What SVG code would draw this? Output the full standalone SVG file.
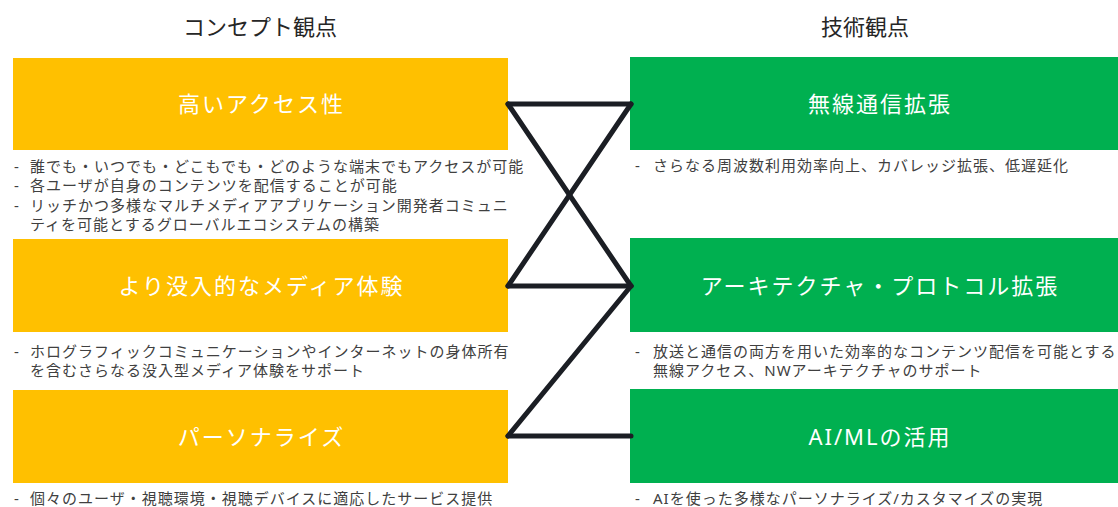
<svg xmlns="http://www.w3.org/2000/svg" width="1118" height="507" viewBox="0 0 1118 507">
  <style>
    .title { font-family: "Noto Sans CJK JP", "Noto Sans", sans-serif; font-size: 22px; fill: #262626; text-anchor: middle; }
    .boxL { fill: #ffc000; }
    .boxR { fill: #00b050; }
    .label { font-family: "Noto Sans", "Noto Sans CJK JP", sans-serif; font-size: 22px; fill: #ffffff; text-anchor: middle; letter-spacing: 2px; }
    .bullet { font-family: "Noto Sans", "Noto Sans CJK JP", sans-serif; font-size: 15px; fill: #404040; letter-spacing: 1px; }
    .conn { stroke: #1b1e24; stroke-width: 5; stroke-linecap: round; fill: none; }
  </style>
  <rect width="1118" height="507" fill="#ffffff"/>

  <g id="titles">
    <text class="title" x="260" y="35">コンセプト観点</text>
    <text class="title" x="865" y="35">技術観点</text>
  </g>

  <g id="node-access">
    <rect class="boxL" x="13" y="58" width="495" height="92"/>
    <text class="label" x="261.5" y="112">高いアクセス性</text>
    <text class="bullet" x="14" y="171.5">-</text>
    <text class="bullet" x="30" y="171.5">誰でも・いつでも・どこもでも・どのような端末でもアクセスが可能</text>
    <text class="bullet" x="14" y="191">-</text>
    <text class="bullet" x="30" y="191">各ユーザが自身のコンテンツを配信することが可能</text>
    <text class="bullet" x="14" y="210.5">-</text>
    <text class="bullet" x="30" y="210.5">リッチかつ多様なマルチメディアアプリケーション開発者コミュニ</text>
    <text class="bullet" x="30" y="230">ティを可能とするグローバルエコシステムの構築</text>
  </g>

  <g id="node-media">
    <rect class="boxL" x="13" y="239" width="495" height="93"/>
    <text class="label" x="261.5" y="293.5">より没入的なメディア体験</text>
    <text class="bullet" x="14" y="357">-</text>
    <text class="bullet" x="30" y="357">ホログラフィックコミュニケーションやインターネットの身体所有</text>
    <text class="bullet" x="30" y="376">を含むさらなる没入型メディア体験をサポート</text>
  </g>

  <g id="node-personalize">
    <rect class="boxL" x="13" y="390" width="495" height="93"/>
    <text class="label" x="261.5" y="444.5">パーソナライズ</text>
    <text class="bullet" x="14" y="503.5">-</text>
    <text class="bullet" x="30" y="503.5">個々のユーザ・視聴環境・視聴デバイスに適応したサービス提供</text>
  </g>

  <g id="node-wireless">
    <rect class="boxR" x="630" y="57" width="498" height="93"/>
    <text class="label" x="880" y="112">無線通信拡張</text>
    <text class="bullet" x="635" y="170.5">-</text>
    <text class="bullet" x="653" y="170.5">さらなる周波数利用効率向上、カバレッジ拡張、低遅延化</text>
  </g>

  <g id="node-architecture">
    <rect class="boxR" x="630" y="238" width="498" height="94"/>
    <text class="label" x="880" y="293.5">アーキテクチャ・プロトコル拡張</text>
    <text class="bullet" x="635" y="357">-</text>
    <text class="bullet" x="653" y="357">放送と通信の両方を用いた効率的なコンテンツ配信を可能とする</text>
    <text class="bullet" x="653" y="376">無線アクセス、NWアーキテクチャのサポート</text>
  </g>

  <g id="node-aiml">
    <rect class="boxR" x="630" y="389" width="498" height="94"/>
    <text class="label" x="880" y="444.5">AI/MLの活用</text>
    <text class="bullet" x="635" y="503.5">-</text>
    <text class="bullet" x="653" y="503.5">AIを使った多様なパーソナライズ/カスタマイズの実現</text>
  </g>

  <g id="connectors">
    <line class="conn" x1="508" y1="104" x2="631" y2="104"/>
    <line class="conn" x1="508" y1="104" x2="631" y2="286"/>
    <line class="conn" x1="631" y1="104" x2="508" y2="286"/>
    <line class="conn" x1="508" y1="286" x2="631" y2="286"/>
    <line class="conn" x1="631" y1="286" x2="508" y2="436"/>
    <line class="conn" x1="508" y1="436" x2="631" y2="436"/>
  </g>
</svg>
